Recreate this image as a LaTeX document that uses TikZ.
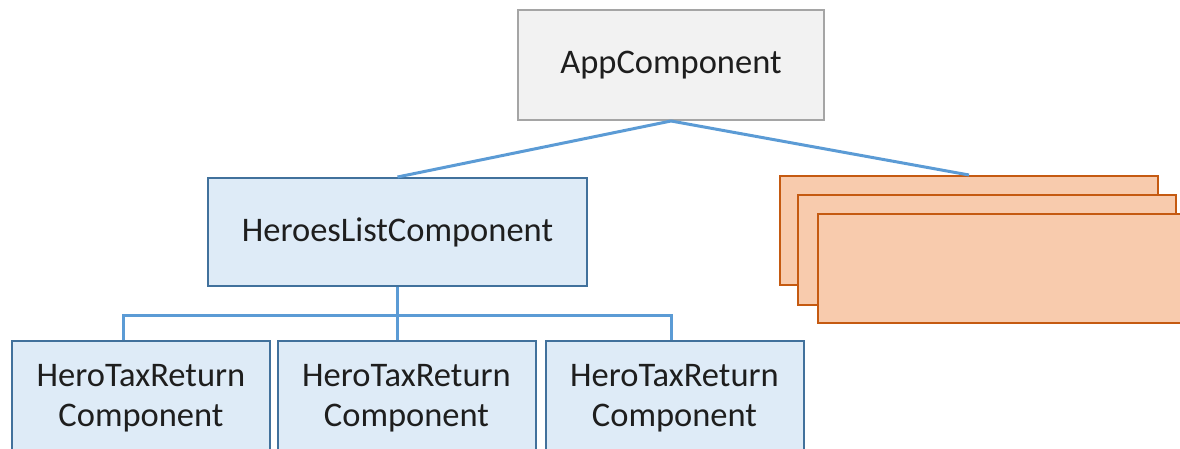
\documentclass[tikz,border=0pt]{standalone}
\usepackage{fontspec}
\setmainfont{Carlito}
\definecolor{appfill}{HTML}{F2F2F2}
\definecolor{appline}{HTML}{A5A5A5}
\definecolor{listfill}{HTML}{DEEBF7}
\definecolor{listline}{HTML}{41719C}
\definecolor{stackfill}{HTML}{F8CBAD}
\definecolor{stackline}{HTML}{C55A11}
\definecolor{linkblue}{HTML}{5B9BD5}
\definecolor{textgray}{HTML}{1E1E1E}

\begin{document}
\begin{tikzpicture}[x=1pt, y=-1pt,
    box/.style={draw, line width=2pt, inner sep=0pt, align=center, text=textgray,
      font=\fontsize{34.5}{40}\selectfont},
    appbox/.style={box, fill=appfill, draw=appline, minimum width=306pt, minimum height=110pt},
    listbox/.style={box, fill=listfill, draw=listline, minimum width=379pt, minimum height=108pt},
    taxbox/.style={box, fill=listfill, draw=listline, minimum width=258pt, minimum height=114pt},
    stackbox/.style={box, fill=stackfill, draw=stackline, minimum width=378pt, minimum height=109pt},
    link/.style={draw=linkblue, line width=3pt}]
  \clip (0,0) rectangle (1180,449);

  \node[appbox] (app) at (671,65) {AppComponent};
  \node[listbox] (list) at (397.5,232) {HeroesListComponent};

  % stacked pages, back to front
  \foreach \i/\x/\y in {1/969/230.5, 2/987/250, 3/1007/268}
    \node[stackbox] (stack\i) at (\x,\y) {};

  \foreach \i/\x in {1/141, 2/406.5, 3/674.5}
    \node[taxbox] (tax\i) at (\x,398) {HeroTaxReturn\\Component};

  \draw[link] (app.south) -- (list.north);
  \draw[link] (app.south) -- (stack1.north);

  \coordinate[yshift=-28pt] (bus) at (list.south);
  \coordinate[xshift=-18pt] (drop1) at (tax1.north);
  \coordinate[xshift=-3.5pt] (drop3) at (tax3.north);
  \draw[link] (list.south) -- (list.south |- tax2.north);
  \draw[link] (drop1) |- (bus) -| (drop3);
\end{tikzpicture}
\end{document}
